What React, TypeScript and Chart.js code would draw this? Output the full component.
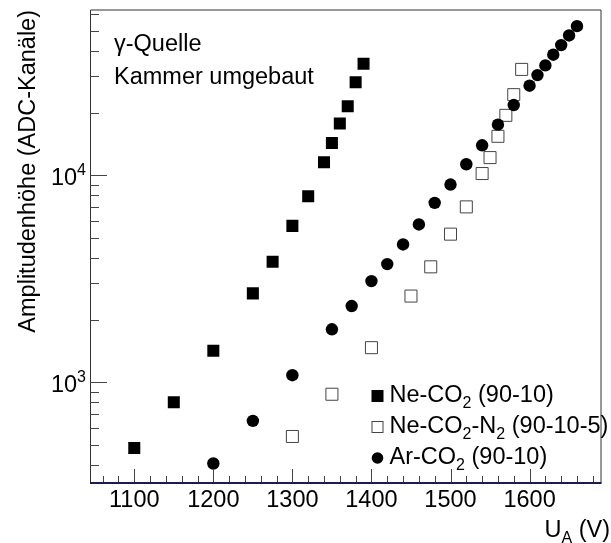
import React, { useEffect, useRef } from "react";
import { Chart, registerables } from "chart.js";

Chart.register(...registerables);

// ---- data ----
const neCO2_U = [1100, 1150, 1200, 1250, 1275, 1300, 1320, 1340, 1350, 1360, 1370, 1380, 1390];
const neCO2_A = [481, 801, 1421, 2687, 3818, 5694, 7920, 11550, 14320, 17760, 21520, 28100, 34580];

const neCO2N2_U = [1300, 1350, 1400, 1450, 1475, 1500, 1520, 1540, 1550, 1560, 1570, 1580, 1590];
const neCO2N2_A = [547, 875, 1469, 2608, 3610, 5193, 7034, 10190, 12170, 15420, 19470, 24510, 32460];

const arCO2_U = [1200, 1250, 1300, 1350, 1375, 1400, 1420, 1440, 1460, 1480, 1500, 1520, 1540, 1560, 1580, 1600, 1610, 1620, 1630, 1640, 1650, 1660];
const arCO2_A = [405, 651, 1081, 1802, 2334, 3081, 3721, 4632, 5783, 7354, 9019, 11300, 13950, 17560, 21830, 27080, 30460, 33930, 38220, 42530, 47360, 52520];

const xTickValues = [1100, 1200, 1300, 1400, 1500, 1600];
const xMinorStep = 20;
const yTickDecades = [3, 4];
const legendLabels = ["Ne-CO_{2} (90-10)", "Ne-CO_{2}-N_{2} (90-10-5)", "Ar-CO_{2} (90-10)"];
const annotationLines = ["\u03b3-Quelle", "Kammer umgebaut"];
const xTitle = "U_{A} (V)";
const yTitle = "Amplitudenh\u00f6he (ADC-Kan\u00e4le)";

const X_MIN = 1044;
const X_MAX = 1691;
const Y_MIN = 326;
const Y_MAX = 63200;

const FONT = '"Liberation Sans", Arial, Helvetica, sans-serif';
const MAIN = 23.5;
const SMALL = 16;

type Seg = { t: string; k: "n" | "sub" | "sup" };

function parseRich(s: string): Seg[] {
  const parts = s.split(/(_\{[^}]*\}|\^\{[^}]*\})/);
  const out: Seg[] = [];
  for (const p of parts) {
    if (!p) continue;
    if (p.startsWith("_{")) out.push({ t: p.slice(2, -1), k: "sub" });
    else if (p.startsWith("^{")) out.push({ t: p.slice(2, -1), k: "sup" });
    else out.push({ t: p, k: "n" });
  }
  return out;
}

function richWidth(ctx: CanvasRenderingContext2D, segs: Seg[]) {
  let w = 0;
  for (const s of segs) {
    ctx.font = `${s.k === "n" ? MAIN : SMALL}px ${FONT}`;
    w += ctx.measureText(s.t).width;
  }
  return w;
}

function drawRich(ctx: CanvasRenderingContext2D, str: string, x: number, y: number, align: "left" | "right" | "center") {
  const segs = parseRich(str);
  const w = richWidth(ctx, segs);
  let cx = align === "left" ? x : align === "right" ? x - w : x - w / 2;
  ctx.textAlign = "left";
  ctx.textBaseline = "alphabetic";
  for (const s of segs) {
    ctx.font = `${s.k === "n" ? MAIN : SMALL}px ${FONT}`;
    const dy = s.k === "sub" ? 6 : s.k === "sup" ? -10 : 0;
    ctx.fillText(s.t, cx, y + dy);
    cx += ctx.measureText(s.t).width;
  }
}

const rootPlugin = {
  id: "rootStyle",
  afterDatasetsDraw(chart: any) {
    const ctx: CanvasRenderingContext2D = chart.ctx;
    const { left, right, top, bottom } = chart.chartArea;
    const xs = chart.scales.x;
    const ys = chart.scales.y;
    ctx.save();
    ctx.fillStyle = "#000";

    // frame
    ctx.strokeStyle = "#333";
    ctx.lineWidth = 1;
    ctx.beginPath();
    ctx.moveTo(left + 0.5, bottom);
    ctx.lineTo(left + 0.5, top + 0.5);
    ctx.lineTo(right - 0.5, top + 0.5);
    ctx.lineTo(right - 0.5, bottom);
    ctx.stroke();

    // x ticks
    ctx.strokeStyle = "#444";
    ctx.beginPath();
    for (let v = Math.ceil(X_MIN / xMinorStep) * xMinorStep; v <= X_MAX; v += xMinorStep) {
      const px = Math.round(xs.getPixelForValue(v)) + 0.5;
      const major = xTickValues.includes(v);
      ctx.moveTo(px, bottom);
      ctx.lineTo(px, bottom - (major ? 14 : 7));
    }
    // y ticks
    for (let d = 2; d <= 4; d++) {
      for (let m = 1; m <= 9; m++) {
        const v = m * Math.pow(10, d);
        if (v < Y_MIN || v > Y_MAX) continue;
        const py = Math.round(ys.getPixelForValue(v)) + 0.5;
        ctx.moveTo(left, py);
        ctx.lineTo(left + (m === 1 ? 17 : 9), py);
      }
    }
    ctx.stroke();

    // bottom axis
    ctx.strokeStyle = "#1c1c4e";
    ctx.lineWidth = 2;
    ctx.beginPath();
    ctx.moveTo(left, bottom);
    ctx.lineTo(right, bottom);
    ctx.stroke();

    // x tick labels
    for (const v of xTickValues) {
      drawRich(ctx, String(v), xs.getPixelForValue(v), bottom + 24, "center");
    }
    // y tick labels
    for (const d of yTickDecades) {
      const py = ys.getPixelForValue(Math.pow(10, d));
      drawRich(ctx, `10^{${d}}`, 86, py + 10, "right");
    }

    // axis titles
    drawRich(ctx, xTitle, 610, 537, "right");
    ctx.save();
    ctx.translate(35, 10);
    ctx.rotate(-Math.PI / 2);
    drawRich(ctx, yTitle, 0, 0, "right");
    ctx.restore();

    // annotation text
    annotationLines.forEach((t, i) => drawRich(ctx, t, 114, 51 + i * 33, "left"));

    // legend
    const lx = 377.5;
    const rows = [396, 427, 458];
    legendLabels.forEach((lab, i) => {
      const cy = rows[i];
      if (i === 0) {
        ctx.fillStyle = "#000";
        ctx.fillRect(lx - 6, cy - 6, 12, 12);
      } else if (i === 1) {
        ctx.fillStyle = "#fff";
        ctx.fillRect(lx - 5.5, cy - 5.5, 11, 11);
        ctx.strokeStyle = "#444";
        ctx.lineWidth = 1;
        ctx.strokeRect(lx - 5.5, cy - 5.5, 11, 11);
      } else {
        ctx.fillStyle = "#000";
        ctx.beginPath();
        ctx.arc(lx, cy, 5.8, 0, Math.PI * 2);
        ctx.fill();
      }
      ctx.fillStyle = "#000";
      drawRich(ctx, lab, 389.5, cy + 6, "left");
    });
    ctx.restore();
  },
};

export default function App() {
  const ref = useRef<HTMLCanvasElement | null>(null);
  useEffect(() => {
    if (!ref.current) return;
    const toPts = (u: number[], a: number[]) => u.map((x, i) => ({ x, y: a[i] }));
    const chart = new Chart(ref.current, {
      type: "scatter",
      data: {
        datasets: [
          {
            label: "Ar-CO2 (90-10)",
            data: toPts(arCO2_U, arCO2_A),
            pointStyle: "circle",
            pointRadius: 6.2,
            backgroundColor: "#000",
            borderColor: "#000",
            borderWidth: 0,
            order: 0,
          },
          {
            label: "Ne-CO2 (90-10)",
            data: toPts(neCO2_U, neCO2_A),
            pointStyle: "rect",
            pointRadius: 8.5,
            backgroundColor: "#000",
            borderColor: "#000",
            borderWidth: 0,
            order: 1,
          },
          {
            label: "Ne-CO2-N2 (90-10-5)",
            data: toPts(neCO2N2_U, neCO2N2_A),
            pointStyle: "rect",
            pointRadius: 8.5,
            backgroundColor: "#fff",
            borderColor: "#444",
            borderWidth: 1,
            order: 2,
          },
        ],
      },
      options: {
        animation: false,
        responsive: false,
        devicePixelRatio: 1,
        layout: { padding: { left: 0, right: 2, top: 9, bottom: 0 } },
        plugins: { legend: { display: false }, tooltip: { enabled: false } },
        scales: {
          x: {
            type: "linear",
            min: X_MIN,
            max: X_MAX,
            grid: { display: false },
            border: { display: false },
            ticks: { display: false },
            afterFit: (s: any) => {
              s.height = 60;
            },
          },
          y: {
            type: "logarithmic",
            min: Y_MIN,
            max: Y_MAX,
            grid: { display: false },
            border: { display: false },
            ticks: { display: false },
            afterFit: (s: any) => {
              s.width = 90;
            },
          },
        },
      },
      plugins: [rootPlugin],
    } as any);
    return () => chart.destroy();
  }, []);
  return (
    <div style={{ position: "fixed", left: 0, top: 0, width: 611, height: 543, background: "#fff" }}>
      <canvas ref={ref} width={611} height={543} style={{ width: 611, height: 543, display: "block" }} />
    </div>
  );
}
